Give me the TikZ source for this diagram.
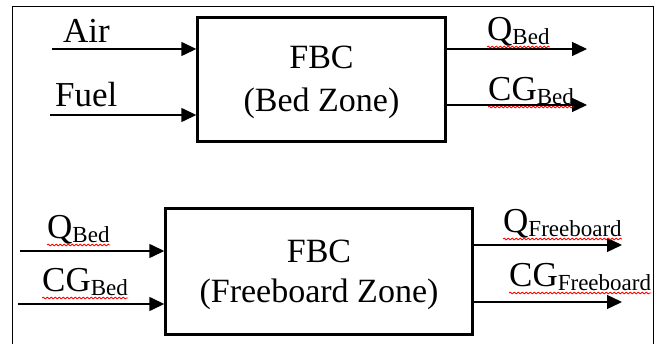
\documentclass[tikz,border=0pt]{standalone}
\usepackage{fontspec}
\setmainfont{Liberation Serif}
\usetikzlibrary{arrows.meta,decorations.pathmorphing}
\tikzset{x=1pt,y=-1pt,
  zone/.style={draw,line width=2.4pt},
  zonetext/.style={inner sep=0pt,anchor=base,font=\fontsize{34}{34}\selectfont},
  flow/.style={line width=1.4pt,-{Triangle[length=15pt,width=14pt]}},
  lbl/.style={inner sep=0pt,anchor=base west,font=\fontsize{35}{35}\selectfont},
  spell/.style={red,line width=0.8pt,decorate,decoration={snake,amplitude=0.9pt,segment length=4pt}}}
\newcommand{\lowsub}[1]{\raisebox{-4pt}{\fontsize{23}{23}\selectfont #1}}

\begin{document}
\begin{tikzpicture}
          \useasboundingbox (0,0) rectangle (666,344);
          \draw[line width=0.8pt] (12,344) -- (12,6) -- (653,6) -- (653,344);

          \node (bedzone) [zone,minimum width=248pt,minimum height=124pt] at (321.5,79.5) {};
          \node (bedtop) [zonetext] at (bedzone.center |- 0,69)  {FBC};
          \node (bedbot) [zonetext] at (bedzone.center |- 0,112) {(Bed Zone)};

          \node (fbzone)  [zone,minimum width=307pt,minimum height=126pt] at (319,271.5) {};
          \node (fbtop) [zonetext] at (fbzone.center |- 0,263) {FBC};
          \node (fbbot) [zonetext] at (fbzone.center |- 0,302) {(Freeboard Zone)};

          \coordinate (airin)  at (52,49);
          \coordinate (fuelin) at (50,115);
          \coordinate (qbedout)  at (587,49);
          \coordinate (cgbedout) at (587,105);
          \coordinate (qbedin)  at (20,251);
          \coordinate (cgbedin) at (18,304);
          \coordinate (qfbout)  at (622,245);
          \coordinate (cgfbout) at (622,302);

          \draw[flow] (airin) -- (airin -| bedzone.west);
          \draw[flow] (fuelin) -- (fuelin -| bedzone.west);
          \draw[flow] (qbedout -| bedzone.east) -- (qbedout);
          \draw[flow] (cgbedout -| bedzone.east) -- (cgbedout);
          \draw[flow] (qbedin) -- (qbedin -| fbzone.west);
          \draw[flow] (cgbedin) -- (cgbedin -| fbzone.west);
          \draw[flow] (qfbout -| fbzone.east) -- (qfbout);
          \draw[flow] (cgfbout -| fbzone.east) -- (cgfbout);

          \node (airlbl)  [lbl] at (63,43)  {Air};
          \node (fuellbl) [lbl] at (55,107) {Fuel};
          \node (qbedlbl)  [lbl] at (487,41)  {Q\lowsub{Bed}};
          \node (cgbedlbl) [lbl] at (488,101) {CG\lowsub{Bed}};
          \node (qbedlbl2)  [lbl] at (47,239) {Q\lowsub{Bed}};
          \node (cgbedlbl2) [lbl] at (42,292) {CG\lowsub{Bed}};
          \node (qfblbl)  [lbl] at (503,233) {Q\lowsub{Freeboard}};
          \node (cgfblbl) [lbl] at (509,287) {CG\lowsub{Freeboard}};

          \foreach \l in {qbedlbl,cgbedlbl,qbedlbl2,cgbedlbl2,qfblbl,cgfblbl}
            \draw[spell] ([yshift=-6pt]\l.base west) -- ([yshift=-6pt]\l.base east);
        \end{tikzpicture}
\end{document}
